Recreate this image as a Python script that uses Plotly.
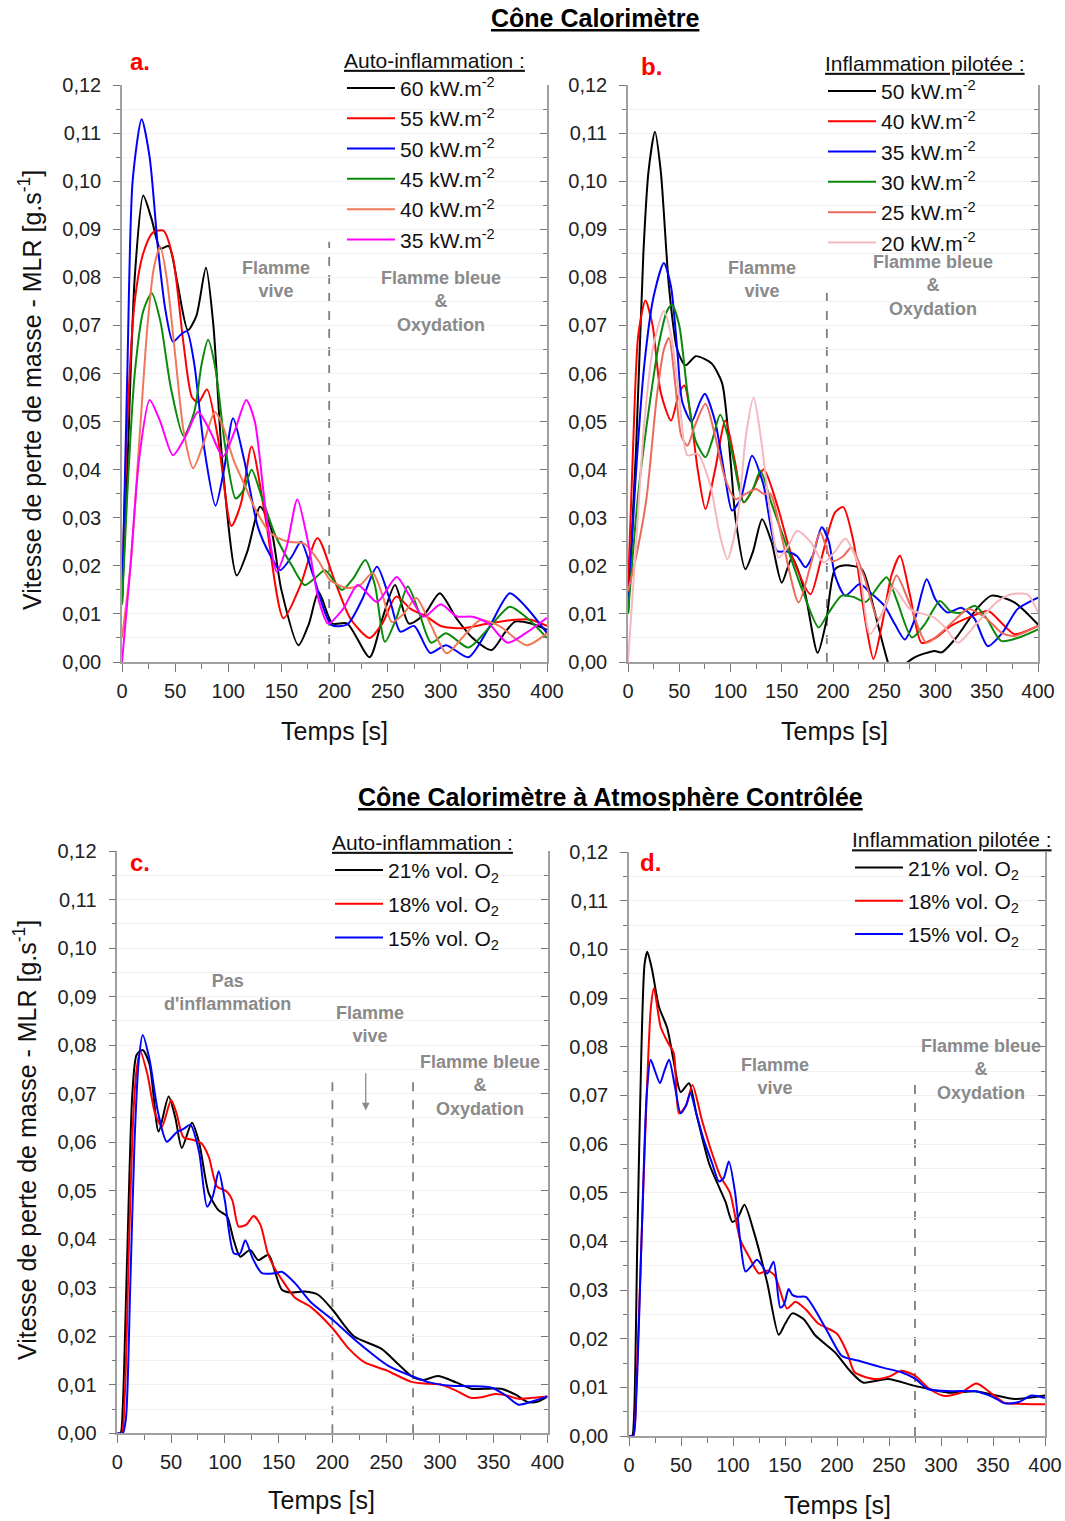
import plotly.graph_objects as go

W, H = 1065, 1521

# ---------------- Panel a : Cône Calorimètre, auto-inflammation ----------------
a_t_60 = [0, 5, 12, 20, 28, 36, 44, 52, 62, 70, 79, 86, 95, 108, 118, 130, 140, 150, 166, 176, 185, 198, 212, 233, 245, 257, 270, 285, 299, 315, 330, 348, 360, 370, 385, 400]
a_v_60 = [0.012, 0.04, 0.08, 0.097, 0.092, 0.086, 0.0865, 0.079, 0.069, 0.072, 0.082, 0.07, 0.04, 0.018, 0.023, 0.0323, 0.028, 0.015, 0.0035, 0.008, 0.0146, 0.008, 0.008, 0.001, 0.009, 0.016, 0.008, 0.01, 0.0143, 0.009, 0.005, 0.0025, 0.006, 0.0084, 0.008, 0.0067]
a_t_55 = [0, 5, 12, 20, 29, 39, 48, 58, 66, 72, 80, 90, 103, 112, 122, 135, 152, 168, 184, 200, 215, 233, 245, 258, 272, 287, 300, 320, 345, 370, 385, 400]
a_v_55 = [0.013, 0.05, 0.075, 0.085, 0.0893, 0.0897, 0.084, 0.066, 0.055, 0.054, 0.0567, 0.047, 0.0283, 0.033, 0.0448, 0.03, 0.0091, 0.016, 0.0258, 0.017, 0.009, 0.005, 0.008, 0.0136, 0.011, 0.0094, 0.0075, 0.007, 0.008, 0.0088, 0.0088, 0.0075]
a_t_50 = [0, 5, 10, 18.5, 26, 34, 41, 48, 55, 61, 68, 77, 88, 96, 104.5, 115, 128, 140, 149, 160, 168.5, 180, 197, 212, 226, 240, 252, 262, 275, 290, 305, 326, 345, 365, 380, 400]
a_v_50 = [0.012, 0.06, 0.1, 0.1129, 0.105, 0.0857, 0.073, 0.0666, 0.068, 0.0688, 0.062, 0.045, 0.0325, 0.04, 0.0507, 0.042, 0.028, 0.022, 0.0191, 0.022, 0.025, 0.018, 0.0077, 0.0078, 0.013, 0.0198, 0.013, 0.0063, 0.0075, 0.0019, 0.0035, 0.001, 0.007, 0.0143, 0.0115, 0.006]
a_t_45 = [0, 5, 12, 20, 28, 36, 46, 58, 68, 75, 81, 88, 97, 107, 115, 122, 132, 145, 160, 172, 182, 191, 207, 218, 229, 238, 247.5, 258, 269, 280, 291, 305, 326, 345, 365, 382, 400]
a_v_45 = [0.012, 0.035, 0.06, 0.073, 0.0767, 0.071, 0.057, 0.047, 0.052, 0.062, 0.067, 0.061, 0.045, 0.034, 0.036, 0.040, 0.034, 0.026, 0.02, 0.016, 0.0175, 0.0191, 0.015, 0.0175, 0.0212, 0.016, 0.0042, 0.009, 0.0157, 0.010, 0.004, 0.006, 0.003, 0.007, 0.0115, 0.009, 0.005]
a_t_40 = [0, 8, 16, 24, 30, 36, 42, 50, 58, 67, 76, 87.5, 95, 105, 115, 125, 139, 150, 157, 172, 185, 196, 212, 224, 236, 245, 254, 265, 277, 290, 305.6, 320, 337, 355, 381, 400]
a_v_40 = [0.005, 0.02, 0.045, 0.07, 0.082, 0.0864, 0.08, 0.064, 0.048, 0.0403, 0.045, 0.052, 0.049, 0.042, 0.037, 0.032, 0.027, 0.0255, 0.025, 0.0245, 0.021, 0.017, 0.0154, 0.016, 0.0185, 0.014, 0.0083, 0.01, 0.0133, 0.008, 0.0018, 0.005, 0.0087, 0.0075, 0.0035, 0.006]
a_t_35 = [0, 8, 16, 26, 36, 48, 60, 71.5, 83, 95, 106, 117, 125, 135, 145.6, 155, 165, 175, 185, 194, 208, 222, 240, 258.5, 270, 284, 300, 315, 330, 345, 363, 380, 400]
a_v_35 = [0.0, 0.02, 0.042, 0.0545, 0.05, 0.043, 0.047, 0.052, 0.048, 0.0427, 0.048, 0.0545, 0.05, 0.032, 0.0188, 0.024, 0.0338, 0.025, 0.013, 0.008, 0.011, 0.016, 0.0125, 0.0177, 0.014, 0.0094, 0.012, 0.0095, 0.0094, 0.008, 0.004, 0.006, 0.0092]

# ---------------- Panel b : Cône Calorimètre, inflammation pilotée ----------------
b_t_50 = [0, 8, 15, 20, 26.3, 32, 40, 48, 56, 66, 75, 82, 91.8, 100, 105, 114.5, 122, 130.8, 140, 150, 160, 172, 185, 193, 202, 212, 228, 240, 247.5, 255, 262, 268, 280, 299, 306, 320, 340, 354.6, 377, 400]
b_v_50 = [0.01, 0.045, 0.085, 0.102, 0.1103, 0.102, 0.078, 0.065, 0.0617, 0.0636, 0.063, 0.062, 0.058, 0.042, 0.0297, 0.0193, 0.023, 0.0297, 0.025, 0.0165, 0.0217, 0.015, 0.0019, 0.008, 0.0193, 0.0201, 0.0193, 0.011, 0.0047, -0.001, -0.004, -0.001, 0.001, 0.0023, 0.002, 0.005, 0.011, 0.0138, 0.0124, 0.0078]
b_t_40 = [0, 5, 10, 17, 24, 32, 42, 50, 55, 62, 68, 75.6, 85, 95, 104, 113, 122, 132.4, 145, 160, 178, 188, 202, 210, 220, 232, 239.5, 248, 257, 265.4, 275, 286.5, 300, 315, 335, 351.4, 365, 377, 400]
b_v_40 = [0.015, 0.045, 0.068, 0.0752, 0.07, 0.056, 0.0502, 0.056, 0.0575, 0.05, 0.04, 0.0318, 0.04, 0.0502, 0.042, 0.0332, 0.036, 0.0401, 0.033, 0.022, 0.0141, 0.021, 0.0311, 0.0322, 0.025, 0.008, 0.0006, 0.008, 0.018, 0.0221, 0.014, 0.004, 0.005, 0.0075, 0.0095, 0.0106, 0.008, 0.0058, 0.0075]
b_t_35 = [0, 8, 16, 25, 35, 42, 48, 53, 62, 70, 75, 85, 95, 101.5, 110, 121, 132, 145.4, 155, 165, 173, 180, 189, 196, 202, 212, 226, 236, 250, 260, 270, 280, 291.4, 300, 312, 325, 338, 351, 365, 380, 400]
b_v_35 = [0.01, 0.04, 0.062, 0.076, 0.083, 0.078, 0.065, 0.054, 0.05, 0.054, 0.0558, 0.05, 0.038, 0.0315, 0.034, 0.0429, 0.037, 0.0231, 0.023, 0.022, 0.0197, 0.022, 0.028, 0.025, 0.018, 0.0138, 0.0162, 0.0145, 0.0117, 0.008, 0.0047, 0.009, 0.0172, 0.013, 0.0103, 0.0113, 0.009, 0.0033, 0.006, 0.011, 0.0134]
b_t_30 = [0, 10, 20, 30, 38, 43, 50, 58, 66, 75.6, 82, 90, 100, 113, 122, 129.2, 140, 155, 170, 186, 195, 208.6, 220, 232, 245, 252.5, 262, 277, 290, 304.3, 315, 325, 338.4, 350, 364, 380, 400]
b_v_30 = [0.01, 0.035, 0.052, 0.066, 0.073, 0.0743, 0.07, 0.056, 0.046, 0.0426, 0.046, 0.0514, 0.045, 0.0332, 0.036, 0.0398, 0.033, 0.024, 0.015, 0.0072, 0.01, 0.0138, 0.0135, 0.0125, 0.016, 0.0176, 0.013, 0.0051, 0.008, 0.0127, 0.0105, 0.0102, 0.0117, 0.009, 0.0044, 0.005, 0.0068]
b_t_25 = [0, 8, 18, 28, 35, 40, 46, 52, 58, 65, 75.6, 85, 95, 104.8, 115, 125, 132, 139, 150, 166.5, 178, 187.6, 199, 210, 218, 230, 244, 252, 262, 275, 291, 305, 320, 332, 350, 365, 377, 400]
b_v_25 = [0.0147, 0.022, 0.034, 0.055, 0.065, 0.0674, 0.058, 0.047, 0.045, 0.049, 0.0537, 0.047, 0.038, 0.0339, 0.035, 0.036, 0.035, 0.035, 0.026, 0.0124, 0.02, 0.027, 0.021, 0.022, 0.0238, 0.018, 0.0089, 0.012, 0.018, 0.012, 0.004, 0.006, 0.009, 0.011, 0.009, 0.006, 0.0054, 0.0075]
b_t_20 = [0, 8, 16, 25, 35, 42, 50, 58, 68, 80, 90, 97, 107, 115, 122.6, 130, 140, 147, 156, 165, 178, 191, 202, 212, 225, 236, 248, 259, 275, 299, 310, 322, 340, 360, 374, 390, 400]
b_v_20 = [0.0, 0.025, 0.05, 0.066, 0.073, 0.068, 0.055, 0.043, 0.0433, 0.037, 0.026, 0.0214, 0.03, 0.047, 0.055, 0.046, 0.029, 0.0217, 0.024, 0.0273, 0.025, 0.0207, 0.023, 0.0257, 0.02, 0.0058, 0.01, 0.0155, 0.011, 0.0092, 0.007, 0.004, 0.008, 0.0125, 0.0141, 0.014, 0.0103]

# ---------------- Panel c : atmosphère contrôlée, auto-inflammation ----------------
c_t_21 = [0, 3, 5, 9, 14, 18, 23.6, 30, 38.4, 47.7, 54, 60, 69.4, 76, 85, 94, 102, 108, 114.3, 123.6, 131, 140.6, 147, 153, 162, 174, 187, 200.7, 220, 245.7, 260, 273.5, 285, 298, 315, 329, 345, 357, 370, 382, 392, 400]
c_v_21 = [0, 0, 0.005, 0.035, 0.07, 0.078, 0.079, 0.076, 0.0622, 0.0694, 0.065, 0.0588, 0.064, 0.06, 0.0495, 0.046, 0.0447, 0.04, 0.0364, 0.0378, 0.0357, 0.0368, 0.033, 0.0296, 0.029, 0.0292, 0.0285, 0.0253, 0.02, 0.0174, 0.0145, 0.0118, 0.011, 0.0118, 0.0105, 0.0092, 0.0092, 0.0092, 0.008, 0.0064, 0.0066, 0.0076]
c_t_18 = [0, 4, 7, 11, 15, 18, 21.4, 28, 35, 41.5, 50, 55, 61.5, 70, 78, 85, 92.6, 102, 107, 112.8, 120, 126.7, 133, 140, 145.3, 152, 165, 180, 200.7, 215, 230, 250, 273.5, 290, 300, 315, 329, 340, 351, 362, 373, 390, 400]
c_v_18 = [0, 0, 0.008, 0.04, 0.066, 0.075, 0.0787, 0.074, 0.066, 0.0632, 0.0687, 0.066, 0.061, 0.0605, 0.0598, 0.057, 0.0509, 0.0498, 0.048, 0.0426, 0.043, 0.0448, 0.043, 0.037, 0.0344, 0.032, 0.028, 0.026, 0.0215, 0.0175, 0.0146, 0.013, 0.0106, 0.0102, 0.0101, 0.0088, 0.0073, 0.0075, 0.0081, 0.0078, 0.0071, 0.0074, 0.0076]
c_t_15 = [0, 5, 8, 12, 16, 20, 23.6, 30, 38, 46, 55, 62, 68, 76, 83.5, 89, 94.3, 100, 108.3, 114, 119, 126, 134.5, 147, 153, 165, 180, 200.7, 225, 252, 273.5, 290, 310, 329, 348, 360, 373, 385, 400]
c_v_15 = [0, 0, 0.003, 0.03, 0.06, 0.077, 0.0821, 0.077, 0.066, 0.0601, 0.062, 0.0628, 0.0636, 0.058, 0.0467, 0.049, 0.054, 0.048, 0.0371, 0.037, 0.0398, 0.036, 0.033, 0.033, 0.0333, 0.031, 0.027, 0.0233, 0.0185, 0.0139, 0.0118, 0.0105, 0.0098, 0.0097, 0.0094, 0.008, 0.0059, 0.0065, 0.0076]

# ---------------- Panel d : atmosphère contrôlée, inflammation pilotée ----------------
d_t_21 = [0, 3, 5, 8, 12, 15, 17.6, 22, 28.8, 36.8, 43, 49.7, 57.7, 65, 77, 86.5, 93, 99.4, 105, 111, 120, 133, 144, 150, 157, 168, 179, 198, 212, 225, 249, 275, 307, 333, 350, 371, 400]
d_v_21 = [0, 0, 0.005, 0.04, 0.08, 0.097, 0.0995, 0.096, 0.0882, 0.0838, 0.077, 0.0707, 0.0725, 0.066, 0.056, 0.0512, 0.048, 0.044, 0.045, 0.0475, 0.042, 0.0314, 0.0208, 0.023, 0.0252, 0.024, 0.0207, 0.0172, 0.0135, 0.011, 0.0117, 0.0103, 0.0089, 0.0092, 0.0085, 0.0076, 0.0083]
d_t_18 = [0, 4, 7, 12, 17, 21, 24, 30.4, 37, 43, 48, 55, 61, 70, 80, 88, 97, 107, 115, 125, 133, 140, 152, 160, 170, 182, 200, 210, 217, 236.5, 250, 262, 275, 290, 304, 320, 334, 350, 361.5, 380, 400]
d_v_18 = [0, 0, 0.01, 0.04, 0.07, 0.088, 0.092, 0.0841, 0.081, 0.0787, 0.0663, 0.068, 0.0721, 0.065, 0.058, 0.0533, 0.05, 0.0403, 0.037, 0.0334, 0.034, 0.033, 0.0262, 0.0276, 0.026, 0.0231, 0.021, 0.017, 0.0131, 0.0117, 0.0122, 0.0134, 0.0124, 0.0095, 0.0082, 0.009, 0.0108, 0.0085, 0.0068, 0.0066, 0.0065]
d_t_15 = [0, 4, 7, 12, 17, 20.8, 25, 29.8, 34, 38.5, 44, 49.7, 55, 59, 65, 72, 80, 86.5, 91, 96, 102, 107, 112, 118, 123, 128, 133, 139, 145.5, 149, 153.5, 157, 161.7, 170, 179, 192, 204.5, 220, 243, 262, 275, 288, 310, 333, 350, 361.5, 375, 387, 400]
d_v_15 = [0, 0, 0.008, 0.04, 0.07, 0.0773, 0.075, 0.0725, 0.075, 0.0773, 0.072, 0.0663, 0.068, 0.0705, 0.066, 0.0608, 0.056, 0.0523, 0.053, 0.0564, 0.05, 0.04, 0.0338, 0.035, 0.0362, 0.035, 0.0334, 0.0358, 0.0264, 0.027, 0.0302, 0.029, 0.0286, 0.0286, 0.0259, 0.021, 0.0165, 0.0155, 0.0141, 0.0131, 0.0118, 0.0096, 0.0092, 0.0092, 0.008, 0.0067, 0.007, 0.0083, 0.0078]

# phase boundaries (s) and dashed-line heights
a_bounds, a_bound_top = [195], 0.0874
b_bounds, b_bound_top = [194], 0.0774
c_bounds, c_bound_top = [200, 275], 0.0732
d_bounds, d_bound_top = [275], 0.0727

# tick labels
y_ticks = [0, 0.01, 0.02, 0.03, 0.04, 0.05, 0.06, 0.07, 0.08, 0.09, 0.10, 0.11, 0.12]
x_ticks = [0, 50, 100, 150, 200, 250, 300, 350, 400]

FONT = "Arial, Liberation Sans, sans-serif"
AXC = "#a0a0a0"
GRID = "#f1f1f1"


def px(x):
    return x / W


def py(y):
    return 1 - y / H


fig = go.Figure()


def add(t, v, name, color, xa, ya, legend):
    fig.add_trace(go.Scatter(
        x=t, y=v, name=name, mode="lines",
        line=dict(color=color, width=2, shape="spline", smoothing=0.7),
        xaxis=xa, yaxis=ya, legend=legend, legendgroup=legend + name,
        hoverinfo="skip"))


SUP = " kW.m<sup>-2</sup>"
add(a_t_60, a_v_60, "60" + SUP, "#000000", "x", "y", "legend")
add(a_t_55, a_v_55, "55" + SUP, "#ff0000", "x", "y", "legend")
add(a_t_50, a_v_50, "50" + SUP, "#0000ff", "x", "y", "legend")
add(a_t_45, a_v_45, "45" + SUP, "#0a8a0a", "x", "y", "legend")
add(a_t_40, a_v_40, "40" + SUP, "#f07858", "x", "y", "legend")
add(a_t_35, a_v_35, "35" + SUP, "#ff00ff", "x", "y", "legend")

add(b_t_50, b_v_50, "50" + SUP, "#000000", "x2", "y2", "legend2")
add(b_t_40, b_v_40, "40" + SUP, "#ff0000", "x2", "y2", "legend2")
add(b_t_35, b_v_35, "35" + SUP, "#0000ff", "x2", "y2", "legend2")
add(b_t_30, b_v_30, "30" + SUP, "#0a8a0a", "x2", "y2", "legend2")
add(b_t_25, b_v_25, "25" + SUP, "#ec6a5c", "x2", "y2", "legend2")
add(b_t_20, b_v_20, "20" + SUP, "#f5b7be", "x2", "y2", "legend2")

SUB = "% vol. O<sub>2</sub>"
add(c_t_21, c_v_21, "21" + SUB, "#000000", "x3", "y3", "legend3")
add(c_t_18, c_v_18, "18" + SUB, "#ff0000", "x3", "y3", "legend3")
add(c_t_15, c_v_15, "15" + SUB, "#0000ff", "x3", "y3", "legend3")

add(d_t_21, d_v_21, "21" + SUB, "#000000", "x4", "y4", "legend4")
add(d_t_18, d_v_18, "18" + SUB, "#ff0000", "x4", "y4", "legend4")
add(d_t_15, d_v_15, "15" + SUB, "#0000ff", "x4", "y4", "legend4")

# axes
domains = {
    1: ([px(122), px(547)], [py(662), py(85)]),
    2: ([px(628), px(1038)], [py(662), py(85)]),
    3: ([px(117.3), px(547.5)], [py(1433.3), py(851)]),
    4: ([px(629), px(1045)], [py(1436), py(852)]),
}
TICKFONT = dict(size=20, color="#222", family=FONT)
layout_axes = {}
for i in range(1, 5):
    xd, yd = domains[i]
    sx = "" if i == 1 else str(i)
    layout_axes["xaxis" + sx] = dict(
        domain=xd, range=[0, 400], anchor="y" + sx, tickvals=x_ticks,
        ticks="outside", ticklen=8, tickwidth=1, tickcolor="#777",
        showline=True, linecolor=AXC, linewidth=1.5, showgrid=False, zeroline=False,
        automargin=False, ticklabelstandoff=2,
        minor=dict(tickvals=[25, 75, 125, 175, 225, 275, 325, 375], ticks="outside",
                   ticklen=5, tickcolor="#777", showgrid=False),
        tickfont=TICKFONT, fixedrange=True)
    layout_axes["yaxis" + sx] = dict(
        domain=yd, range=[0, 0.12], anchor="x" + sx, tickvals=y_ticks,
        tickformat=".2f", ticks="outside", ticklen=7, tickwidth=1, tickcolor="#777",
        showline=True, linecolor=AXC, linewidth=1.5, showgrid=True, gridcolor=GRID,
        zeroline=False, ticklabelstandoff=8, automargin=False,
        minor=dict(dtick=0.005, tick0=0, ticks="outside", ticklen=4, tickcolor="#777",
                   showgrid=True, gridcolor=GRID),
        tickfont=TICKFONT, fixedrange=True)
    layout_axes["yaxis" + str(i + 4)] = dict(
        overlaying="y" + sx, side="right", anchor="x" + sx, range=[0, 0.12],
        tickvals=y_ticks, showticklabels=False, ticks="inside", ticklen=7,
        tickcolor="#777", showline=True, linecolor=AXC, linewidth=1.5,
        showgrid=False, zeroline=False, automargin=False,
        minor=dict(dtick=0.005, tick0=0, ticks="inside", ticklen=4, tickcolor="#777",
                   showgrid=False), fixedrange=True)

# dummy traces to activate right axes
for i in range(1, 5):
    sx = "" if i == 1 else str(i)
    fig.add_trace(go.Scatter(x=[None], y=[None], xaxis="x" + sx, yaxis="y" + str(i + 4),
                             showlegend=False, hoverinfo="skip"))

LEG_FONT = dict(size=21, color="#111", family=FONT)


def legend_cfg(x, y, title, gap):
    return dict(
        x=px(x), y=py(y), xanchor="left", yanchor="top", xref="paper", yref="paper",
        bgcolor="rgba(0,0,0,0)", borderwidth=0, font=LEG_FONT, itemwidth=48,
        traceorder="grouped", tracegroupgap=gap, itemclick=False, itemdoubleclick=False,
        title=dict(text=title, font=dict(size=21, color="#111", family=FONT, lineposition="under")))


shapes = []
for xa, ya, bounds, top in [("x", "y", a_bounds, a_bound_top), ("x2", "y2", b_bounds, b_bound_top),
                            ("x3", "y3", c_bounds, c_bound_top), ("x4", "y4", d_bounds, d_bound_top)]:
    for b in bounds:
        shapes.append(dict(type="line", xref=xa, yref=ya, x0=b, x1=b, y0=0, y1=top,
                           line=dict(color="#7f7f7f", width=1.8, dash="dash"), layer="below"))

annotations = []


def ann(x, y, text, size=18, color="#8a8a8a", bold=True, **kw):
    d = dict(x=px(x), y=py(y), xref="paper", yref="paper", text=("<b>%s</b>" % text) if bold else text,
             showarrow=False, font=dict(size=size, color=color, family=FONT), xanchor="center",
             yanchor="middle")
    d.update(kw)
    annotations.append(d)


# main titles
ann(595, 18, "Cône Calorimètre",
    font=dict(size=25, color="#000", family=FONT, lineposition="under"))
ann(610, 797, "Cône Calorimètre à Atmosphère Contrôlée",
    font=dict(size=25, color="#000", family=FONT, lineposition="under"))
# panel letters
for (x, y, t) in [(140, 62, "a."), (651, 66, "b."), (140, 862, "c."), (650, 862, "d.")]:
    ann(x, y, t, size=24, color="#ff0000")
# phase texts
ann(276, 280, "Flamme<br>vive")
ann(441, 301, "Flamme bleue<br>&<br>Oxydation")
ann(762, 280, "Flamme<br>vive")
ann(933, 285, "Flamme bleue<br>&<br>Oxydation")
ann(227, 992, "Pas<br>d'inflammation")
ann(370, 1024, "Flamme<br>vive")
ann(480, 1085, "Flamme bleue<br>&<br>Oxydation")
ann(775, 1076, "Flamme<br>vive")
ann(981, 1069, "Flamme bleue<br>&<br>Oxydation")
# arrow in c
annotations.append(dict(x=231, y=0.0665, ax=231, ay=0.0745, xref="x3", yref="y3", axref="x3", ayref="y3",
                        text="", showarrow=True, arrowhead=2, arrowsize=1.2, arrowwidth=1.3,
                        arrowcolor="#8a8a8a"))
# axis titles
YT = "Vitesse de perte de masse - MLR [g.s<sup>-1</sup>]"
ann(30, 390, YT, size=25, color="#111", bold=False, textangle=-90)
ann(25, 1140, YT, size=25, color="#111", bold=False, textangle=-90)
for (x, y) in [(334, 731), (834, 731), (321, 1500), (837, 1505)]:
    ann(x, y, "Temps [s]", size=25, color="#111", bold=False)

fig.update_layout(
    width=W, height=H, margin=dict(l=0, r=0, t=0, b=0, autoexpand=False),
    paper_bgcolor="white", plot_bgcolor="white", separators=", ",
    font=dict(family=FONT, color="#111"),
    showlegend=True,
    legend=legend_cfg(342, 40.5, "Auto-inflammation :", 0),
    legend2=legend_cfg(823, 43.5, "Inflammation pilotée :", 0),
    legend3=legend_cfg(330, 822.5, "Auto-inflammation :", 3.5),
    legend4=legend_cfg(850, 820, "Inflammation pilotée :", 3),
    shapes=shapes, annotations=annotations,
    **layout_axes)

fig.write_html("out.html", config={"displayModeBar": False, "staticPlot": False},
               post_script="document.body.style.margin='0px';document.body.style.overflow='hidden';")
